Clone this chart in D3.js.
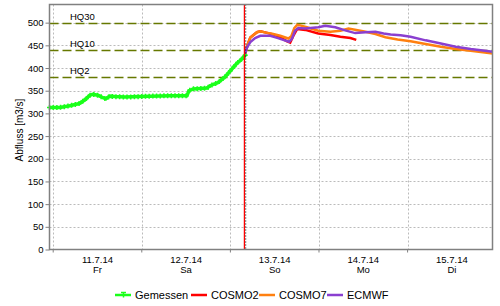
<!DOCTYPE html>
<html>
<head>
<meta charset="utf-8">
<script src="https://cdn.jsdelivr.net/npm/d3@7"></script>
<style>
  body { margin: 0; background: #fff; }
  svg { display: block; font-family: "Liberation Sans", Arial, sans-serif; }
</style>
</head>
<body>
<svg width="500" height="306"></svg>
<script>
// hours since 11.7.14 00:00
const gemessenH = [-1, 1.8, 4.5, 7.2, 8.6, 9.9, 10.7, 12.1, 13.4, 14.3, 15.3, 16.7, 19.4, 23.5, 26.2, 31.6, 36.2, 36.8, 37.9, 41.7, 42.5, 44.7, 46.6, 48.0, 49.7, 51.1, 52.3];
const gemessenQ = [313, 313, 317, 322, 330, 340, 342, 340, 335, 332, 338, 337, 336, 337, 338, 339, 339, 350, 354, 356, 361, 368, 381, 394, 410, 420, 431];

const cosmo2H = [52, 52.8, 53.4, 55.2, 56.1, 57.7, 59.6, 61.5, 63.1, 64.2, 65.0, 66.1, 68.3, 71.8, 75.1, 77.8, 80.5, 82.1];
const cosmo2Q = [432, 455, 467, 479, 481, 478, 474, 468, 460, 456, 470, 486, 484, 476, 473, 469, 466, 462];

const cosmo7H = [52, 52.8, 53.4, 55.2, 56.1, 57.7, 59.6, 61.5, 63.7, 64.5, 65.3, 66.1, 66.9, 68.7, 71.8, 75.1, 77.8, 80.0, 82.1, 84.6, 87.3, 90.0, 93.3, 96.8, 100.9, 105.0, 109.0, 113.1, 119.1];
const cosmo7Q = [432, 455, 467, 479, 481, 478, 475, 471, 465, 470, 488, 495, 494, 490, 482, 480, 482, 487, 484, 480, 475, 468, 463, 459, 453, 447, 442, 438, 432];

const ecmwfH = [52, 52.5, 53.4, 54.7, 56.1, 58.8, 60.9, 62.3, 63.9, 64.7, 65.5, 66.4, 68.3, 71.8, 73.7, 76.4, 79.1, 81.8, 84.6, 87.3, 89.5, 91.4, 94.1, 96.8, 100.9, 105.0, 109.0, 113.1, 119.1];
const ecmwfQ = [432, 445, 457, 466, 471, 471, 466, 462, 458, 465, 482, 488, 487, 490, 493, 490, 483, 477, 479, 480, 476, 474, 472, 469, 461, 454, 447, 442, 436];

const dayStartH = [0, 24, 48, 72, 96];
const dayDates = ["11.7.14", "12.7.14", "13.7.14", "14.7.14", "15.7.14"];
const dayNames = ["Fr", "Sa", "So", "Mo", "Di"];

const yTicks = [0, 50, 100, 150, 200, 250, 300, 350, 400, 450, 500];
const hqNames = ["HQ30", "HQ10", "HQ2"];
const hqValues = [500, 440, 380];

const forecastStartH = 51.8;

const seriesNames = ["Gemessen", "COSMO2", "COSMO7", "ECMWF"];
const seriesColors = ["#1aff1a", "#ff0000", "#ff8010", "#8a3fd0"];

const svg = d3.select("svg");
const pLeft = 49.5, pRight = 492.5, pTop = 4.5, pBottom = 249.5;

const x = d3.scaleLinear().domain([-1, 119]).range([pLeft, pRight]);
const y = d3.scaleLinear().domain([0, 540]).range([pBottom, pTop]);

// grid
svg.append("g").selectAll("line")
    .data(yTicks.slice(1))
    .enter().append("line")
    .attr("x1", pLeft).attr("x2", pRight)
    .attr("y1", d => Math.round(y(d)) + 0.5).attr("y2", d => Math.round(y(d)) + 0.5)
    .attr("stroke", "#bbb").attr("stroke-dasharray", "2,2");

svg.append("g").selectAll("line")
    .data(dayStartH)
    .enter().append("line")
    .attr("x1", d => Math.round(x(d)) + 0.5).attr("x2", d => Math.round(x(d)) + 0.5)
    .attr("y1", pTop).attr("y2", pBottom)
    .attr("stroke", "#bbb").attr("stroke-dasharray", "2,2");

// HQ lines
const hq = svg.append("g");
hq.selectAll("line")
    .data(hqValues)
    .enter().append("line")
    .attr("x1", pLeft).attr("x2", pRight)
    .attr("y1", d => Math.round(y(d)) + 0.5).attr("y2", d => Math.round(y(d)) + 0.5)
    .attr("stroke", "#667800").attr("stroke-width", 1.5).attr("stroke-dasharray", "9,4");
hq.selectAll("text")
    .data(hqValues)
    .enter().append("text")
    .attr("x", 70).attr("y", d => y(d) - 3)
    .attr("font-size", "9.5px").attr("fill", "#000")
    .text((d, i) => hqNames[i]);

// series
const line = d3.line().x(d => x(d[0])).y(d => y(d[1]));
const zip = (a, b) => a.map((v, i) => [v, b[i]]);

const gemessen = zip(gemessenH, gemessenQ);
svg.append("path")
    .datum(gemessen)
    .attr("d", line)
    .attr("fill", "none")
    .attr("stroke", seriesColors[0]).attr("stroke-width", 3.5);

// + markers along measured series (every ~hour)
const markers = [];
for (let h = -1; h <= 52.3; h += 1) {
    const i = d3.bisectRight(gemessenH, h) - 1;
    const j = Math.min(i + 1, gemessenH.length - 1);
    const t = j === i ? 0 : (h - gemessenH[i]) / (gemessenH[j] - gemessenH[i]);
    markers.push([h, gemessenQ[i] + t * (gemessenQ[j] - gemessenQ[i])]);
}
svg.append("g").selectAll("path")
    .data(markers)
    .enter().append("path")
    .attr("d", d => `M${x(d[0]) - 2.5},${y(d[1])}h5M${x(d[0])},${y(d[1]) - 2.5}v5`)
    .attr("stroke", seriesColors[0]).attr("stroke-width", 1.5);

[[cosmo2H, cosmo2Q], [cosmo7H, cosmo7Q], [ecmwfH, ecmwfQ]].forEach(([h, q], k) => {
    svg.append("path")
        .datum(zip(h, q))
        .attr("d", line)
        .attr("fill", "none")
        .attr("stroke", seriesColors[k + 1]).attr("stroke-width", 2.5);
});

// forecast start / now line
svg.append("line")
    .attr("x1", x(forecastStartH)).attr("x2", x(forecastStartH))
    .attr("y1", pTop).attr("y2", pBottom)
    .attr("stroke", "#ff0000").attr("stroke-width", 1.3);
svg.append("line")
    .attr("x1", x(forecastStartH) + 1.3).attr("x2", x(forecastStartH) + 1.3)
    .attr("y1", pTop).attr("y2", pBottom)
    .attr("stroke", "#000").attr("stroke-width", 1).attr("stroke-dasharray", "1,2");

// frame
svg.append("rect")
    .attr("x", pLeft).attr("y", pTop)
    .attr("width", pRight - pLeft).attr("height", pBottom - pTop)
    .attr("fill", "none").attr("stroke", "#808080").attr("stroke-width", 1.5);

// y axis
const yAxis = svg.append("g")
    .attr("transform", `translate(${pLeft},0)`)
    .call(d3.axisLeft(y).tickValues(yTicks).tickSize(4).tickPadding(2));
yAxis.select(".domain").remove();
yAxis.selectAll("line").attr("stroke", "#808080");
yAxis.selectAll("text").attr("font-size", "9.5px").attr("font-family", "Liberation Sans, Arial, sans-serif").attr("fill", "#000");

svg.append("text")
    .attr("transform", "translate(23,130) rotate(-90)")
    .attr("text-anchor", "middle")
    .attr("font-size", "10px")
    .text("Abfluss [m3/s]");

// x axis ticks at day starts
svg.append("g").selectAll("line")
    .data(dayStartH)
    .enter().append("line")
    .attr("x1", d => x(d)).attr("x2", d => x(d))
    .attr("y1", pBottom).attr("y2", pBottom + 3)
    .attr("stroke", "#808080");

const dayLabels = svg.append("g").selectAll("g")
    .data(dayStartH)
    .enter().append("g")
    .attr("transform", d => `translate(${x(d + 12)},0)`);
dayLabels.append("text")
    .attr("y", 263).attr("text-anchor", "middle").attr("font-size", "9.5px")
    .text((d, i) => dayDates[i]);
dayLabels.append("text")
    .attr("y", 273).attr("text-anchor", "middle").attr("font-size", "9.5px")
    .text((d, i) => dayNames[i]);

// legend
const legendX = [115, 191, 259, 327];
const legend = svg.append("g").selectAll("g")
    .data(seriesNames)
    .enter().append("g")
    .attr("transform", (d, i) => `translate(${legendX[i]},295)`);
legend.append("line")
    .attr("x1", 0).attr("x2", 16)
    .attr("stroke", (d, i) => seriesColors[i]).attr("stroke-width", 2.5);
legend.filter((d, i) => i === 0).append("path")
    .attr("d", "M6,-2.5h5M8.5,-2.5v5")
    .attr("stroke", seriesColors[0]).attr("stroke-width", 1.5);
legend.append("text")
    .attr("x", 20).attr("y", 4)
    .attr("font-size", "11px")
    .text(d => d);
</script>
</body>
</html>
